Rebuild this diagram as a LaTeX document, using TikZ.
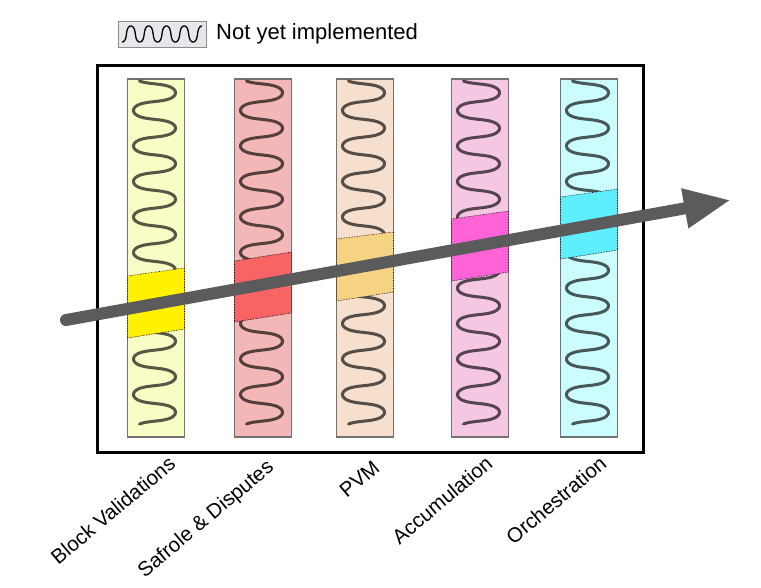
\documentclass[tikz,border=0pt]{standalone}
\usepackage{fontspec}
\setmainfont{Liberation Sans}
\usetikzlibrary{arrows.meta}
\definecolor{yelLite}{HTML}{F8FCC5}
\definecolor{redLite}{HTML}{F2B7B6}
\definecolor{peaLite}{HTML}{F6DFCD}
\definecolor{pnkLite}{HTML}{F6C7E2}
\definecolor{cyaLite}{HTML}{CBFDFE}
\definecolor{yelBand}{HTML}{FFF200}
\definecolor{redBand}{HTML}{F86464}
\definecolor{peaBand}{HTML}{F6D383}
\definecolor{pnkBand}{HTML}{FF63D6}
\definecolor{cyaBand}{HTML}{5EEEFE}
\definecolor{arrowGray}{HTML}{5B5B5B}
\definecolor{legendFill}{HTML}{E6E6EB}
\begin{document}
\begin{tikzpicture}[x=1pt,y=-1pt,
  colbox/.style={draw=black!55, line width=1.2pt, minimum width=57pt,
    minimum height=358pt, inner sep=0pt},
  spring/.style={draw=black, draw opacity=0.65, line width=3pt, line cap=round},
  band/.style={draw=black, densely dotted, line width=0.6pt},
  lbl/.style={rotate=40, anchor=base east, inner sep=0pt,
    font=\fontsize{20.5}{20.5}\selectfont},
]
\useasboundingbox (0,0) rectangle (761,587);

% legend
\node[draw=black!45, fill=legendFill, line width=1pt, minimum width=88pt,
  minimum height=26pt, inner sep=0pt] (legbox) at (162,34) {};
\draw[line width=1.3pt] plot[domain=-1.5708:26.7035, samples=240, variable=\t]
  ({122 + 2.8294*(\t + 1.5708 - 0.3*sin((2*\t) r))}, {34 - 8*sin(\t r)});
\node[anchor=west, inner sep=0pt, font=\fontsize{22}{22}\selectfont]
  (legtext) at (216,34) {Not yet implemented};

% outer frame
\draw[line width=3pt] (97,65.5) rectangle (643.5,452);

% columns
\node[colbox, fill=yelLite] (c1) at (156,258) {};
\node[colbox, fill=redLite] (c2) at (263,258) {};
\node[colbox, fill=peaLite] (c3) at (365,258) {};
\node[colbox, fill=pnkLite] (c4) at (480,258) {};
\node[colbox, fill=cyaLite] (c5) at (589,258) {};

% coiled springs inside the columns
\foreach \cx in {156,263,365,480,589}{
  \draw[spring] plot[domain=-0.8:60.49, samples=600, variable=\t]
    ({\cx - 1.5 + 21*sin(\t r)},
     {81 + 5.652*(\t + 0.8 - 0.3*sin((2*\t) r) - 0.2999)});
}

% highlighted bands
\foreach \cx/\a/\b/\c/\d/\col in {
    156/276/268/338/329/yelBand,
    263/261/252/322/313/redBand,
    365/239/232/301/292/peaBand,
    480/219/211/281/272/pnkBand,
    589/197/189/259/250/cyaBand}{
  \filldraw[band, fill=\col] (\cx-28.5,\a) -- (\cx+28.5,\b) --
    (\cx+28.5,\d) -- (\cx-28.5,\c) -- cycle;
}

% progress arrow
\coordinate (start) at (66,320);
\coordinate (tip) at (731,200);
\draw[arrowGray, line width=12pt, line cap=round,
  -{Triangle[length=47pt,width=37pt]}] (start) -- (tip);

% column labels
\node[lbl] (l1) at (177,466) {Block Validations};
\node[lbl] (l2) at (275,469) {Safrole \& Disputes};
\node[lbl] (l3) at (381,470) {PVM};
\node[lbl] (l4) at (494,466) {Accumulation};
\node[lbl] (l5) at (608,466) {Orchestration};
\end{tikzpicture}
\end{document}
